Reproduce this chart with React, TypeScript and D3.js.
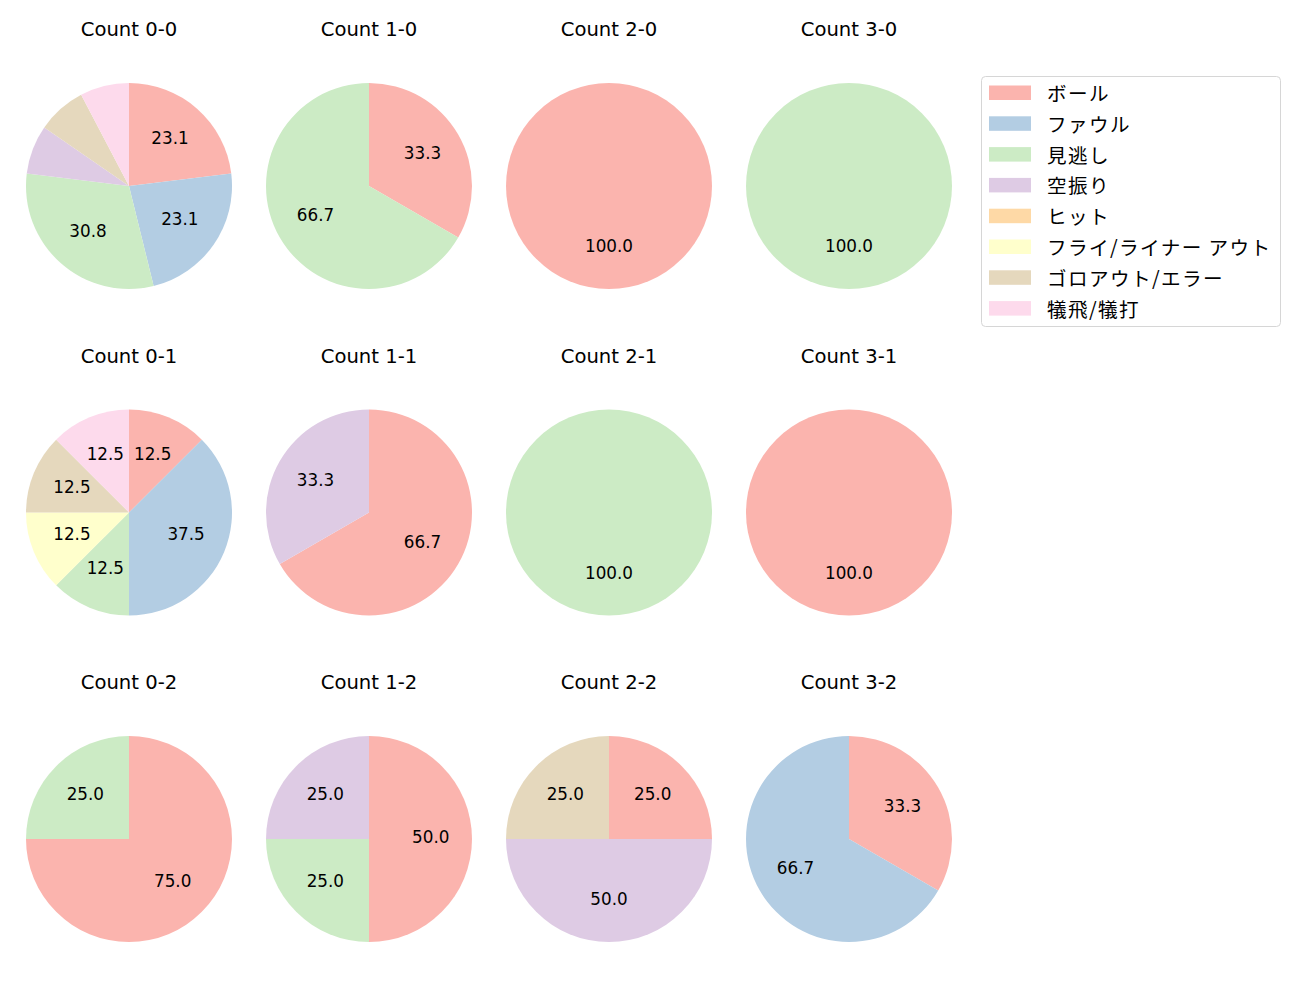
import React from "react";
import * as d3 from "d3";

const categories = ["ボール", "ファウル", "見逃し", "空振り", "ヒット", "フライ/ライナー アウト", "ゴロアウト/エラー", "犠飛/犠打"];
const colors = ["#fbb4ae", "#b3cde3", "#ccebc5", "#decbe4", "#fed9a6", "#ffffcc", "#e5d8bd", "#fddaec"];

const countTitles = [
  ["Count 0-0", "Count 1-0", "Count 2-0", "Count 3-0"],
  ["Count 0-1", "Count 1-1", "Count 2-1", "Count 3-1"],
  ["Count 0-2", "Count 1-2", "Count 2-2", "Count 3-2"],
];

// values per category order: ボール, ファウル, 見逃し, 空振り, ヒット, フライ, ゴロ, 犠飛
const c00 = [3, 3, 4, 1, 0, 0, 1, 1];
const c10 = [1, 0, 2, 0, 0, 0, 0, 0];
const c20 = [1, 0, 0, 0, 0, 0, 0, 0];
const c30 = [0, 0, 1, 0, 0, 0, 0, 0];
const c01 = [1, 3, 1, 0, 0, 1, 1, 1];
const c11 = [2, 0, 0, 1, 0, 0, 0, 0];
const c21 = [0, 0, 1, 0, 0, 0, 0, 0];
const c31 = [1, 0, 0, 0, 0, 0, 0, 0];
const c02 = [3, 0, 1, 0, 0, 0, 0, 0];
const c12 = [2, 0, 1, 1, 0, 0, 0, 0];
const c22 = [1, 0, 0, 2, 0, 0, 1, 0];
const c32 = [1, 2, 0, 0, 0, 0, 0, 0];

const grid = [
  [c00, c10, c20, c30],
  [c01, c11, c21, c31],
  [c02, c12, c22, c32],
];

const LATIN = "'DejaVu Sans', 'Noto Sans CJK JP', sans-serif";
const CJK = "'Noto Sans CJK JP', 'DejaVu Sans', sans-serif";

export default function App() {
  const colX = d3.scaleLinear().domain([0, 3]).range([129, 849]);
  const rowY = d3.scaleLinear().domain([0, 2]).range([186, 839]);
  const R = 103;
  const pie = d3.pie<number>().sort(null).value((d) => d).startAngle(0).endAngle(2 * Math.PI);
  const arc = d3.arc<d3.PieArcDatum<number>>().innerRadius(0).outerRadius(R);

  return (
    <svg width={1300} height={1000} style={{ display: "block", position: "absolute", left: 0, top: 0 }}>
      <rect width={1300} height={1000} fill="#fff" />
      {grid.map((row, ri) =>
        row.map((vals, ci) => {
          const cx = colX(ci);
          const cy = rowY(ri);
          const total = d3.sum(vals);
          const arcs = pie(vals);
          return (
            <g key={`${ri}-${ci}`}>
              <text x={cx} y={cy - 150} textAnchor="middle" fontFamily={LATIN} fontSize={19.6} fill="#000">
                {countTitles[ri][ci]}
              </text>
              <g transform={`translate(${cx},${cy})`}>
                {arcs.map((a, i) =>
                  a.value > 0 ? (
                    a.value === total ? (
                      <circle key={i} r={R} fill={colors[i]} />
                    ) : (
                      <path key={i} d={arc(a) || ""} fill={colors[i]} />
                    )
                  ) : null
                )}
                {arcs.map((a, i) => {
                  const pct = (a.value / total) * 100;
                  if (a.value <= 0 || pct < 10) return null;
                  const mid = (a.startAngle + a.endAngle) / 2;
                  const x = Math.sin(mid) * R * 0.6;
                  const y = -Math.cos(mid) * R * 0.6;
                  return (
                    <text key={`t${i}`} x={x} y={y + 4.3} textAnchor="middle" fontFamily={LATIN} fontSize={16.8} fill="#000">
                      {pct.toFixed(1)}
                    </text>
                  );
                })}
              </g>
            </g>
          );
        })
      )}
      <g>
        <rect x={981.5} y={76.5} width={299} height={250} rx={4} fill="#fff" stroke="#d6d6d6" strokeWidth={1} />
        {categories.map((c, i) => {
          const y = 92.5 + i * 30.8;
          return (
            <g key={c}>
              <rect x={989} y={y - 7} width={42} height={14.5} fill={colors[i]} />
              <text x={1047} y={y} dominantBaseline="central" fontFamily={CJK} fontSize={19.6} letterSpacing={1.4} fill="#000">
                {c}
              </text>
            </g>
          );
        })}
      </g>
    </svg>
  );
}
